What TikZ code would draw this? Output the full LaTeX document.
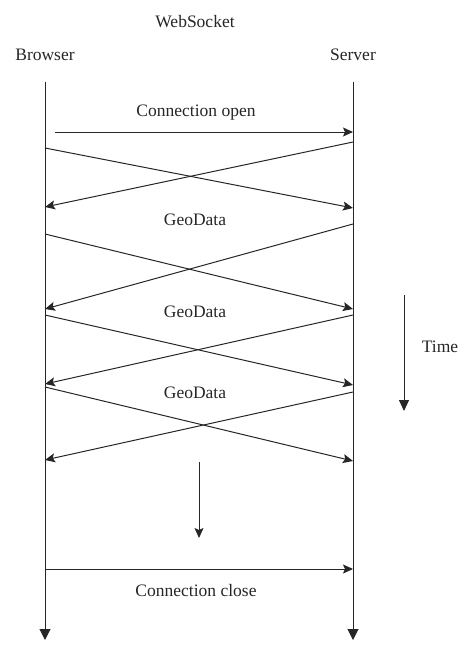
\documentclass[tikz,border=0pt]{standalone}
\usepackage{fontspec}
\setmainfont{Liberation Serif}
\usetikzlibrary{arrows.meta,positioning,calc}

\begin{document}
\begin{tikzpicture}
[	x=1pt, y=-1pt,
	txt/.style={font=\fontsize{17.5}{20}\selectfont, inner sep=0pt, text=black!85},
	lifeline/.style={draw=black!85, line width=1pt, -{Triangle[length=11pt,width=11pt]}},
	msg/.style={draw=black!85, line width=1pt, -{Stealth[length=10pt,width=9pt,inset=2pt]}},
	timearrow/.style={draw=black!85, line width=1pt, -{Triangle[length=11pt,width=10pt]}}
]
\useasboundingbox (0,0) rectangle (474,656);

\node(title)[txt] at (195,22) {WebSocket};
\node(browser)[txt] at (45,55) {Browser};
\node(server)[txt] at (353,55) {Server};

% lifelines
\coordinate (btop) at (45,82);
\coordinate (bbot) at (45,640);
\coordinate (stop) at (353,82);
\coordinate (sbot) at (353,640);
\draw[lifeline] (btop) -- (bbot);
\draw[lifeline] (stop) -- (sbot);

% connection open
\node(open)[txt] at (196,113) {Connection open};
\coordinate (openstart) at (55,132);
\coordinate (openend) at (353,132);
\draw[msg] (openstart) -- (openend);

% crossing messages
\foreach \i/\a/\b/\c/\d in {1/148/208/142/207, 2/234/309/224/309, 3/315/385/315/384, 4/387/461/392/460}
{
	\coordinate (bout\i) at (45,\a);
	\coordinate (sin\i) at (353,\b);
	\coordinate (sout\i) at (353,\c);
	\coordinate (bin\i) at (45,\d);
	\draw[msg] (bout\i) -- (sin\i);
	\draw[msg] (sout\i) -- (bin\i);
}
\node(geo1)[txt] at (195,220) {GeoData};
\node(geo2)[txt] at (195,312) {GeoData};
\node(geo3)[txt] at (195,393) {GeoData};

% continuation
\coordinate (contstart) at (199,462);
\coordinate (contend) at (199,538);
\draw[msg] (contstart) -- (contend);

% connection close
\coordinate (closestart) at (45,569);
\coordinate (closeend) at (353,569);
\draw[msg] (closestart) -- (closeend);
\node(close)[txt] at (196,591) {Connection close};

% time
\coordinate (timestart) at (404,295);
\coordinate (timeend) at (404,411);
\draw[timearrow] (timestart) -- (timeend);
\node(time)[txt] at (440,347) {Time};

\end{tikzpicture}
\end{document}
